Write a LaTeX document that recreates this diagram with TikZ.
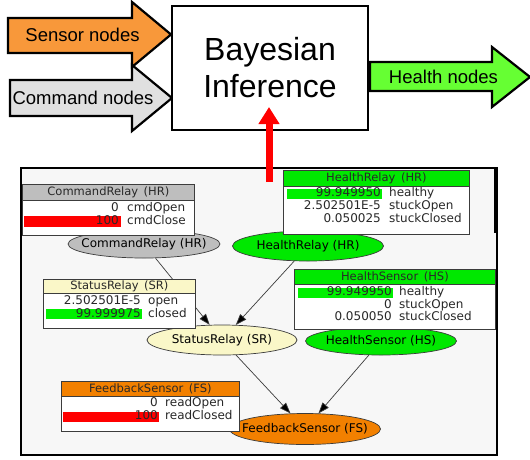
\documentclass[tikz,border=0pt]{standalone}
\usepackage{fontspec}
\setmainfont{Liberation Sans}
\newfontfamily\netfont{DejaVu Sans}
\usetikzlibrary{arrows.meta,positioning,shapes.geometric}
\definecolor{sensororange}{RGB}{248,152,58}
\definecolor{cmdgray}{RGB}{224,224,224}
\definecolor{healthgreen}{RGB}{102,255,51}
\definecolor{panelgray}{RGB}{247,247,247}
\definecolor{netgray}{RGB}{190,190,190}
\definecolor{netgreen}{RGB}{0,232,0}
\definecolor{netyellow}{RGB}{250,247,200}
\definecolor{netorange}{RGB}{242,128,0}
\definecolor{bargreen}{RGB}{0,240,0}
\definecolor{netline}{RGB}{60,60,60}
\definecolor{nettext}{RGB}{40,40,40}
\tikzset{
  blockarrow/.style={draw=black,line width=2.2pt,line join=miter},
  blocklabel/.style={font=\fontsize{18.5}{20}\selectfont,inner sep=0pt},
  netnode/.style={ellipse,draw=netline,line width=0.7pt,inner sep=0pt},
  netlabel/.style={font=\netfont\fontsize{12}{14}\selectfont,inner sep=0pt},
  netedge/.style={draw=netline,line width=0.7pt,-{Triangle[length=11pt,width=8pt,fill=black]}},
  cpt/.style={draw=netline,line width=0.8pt,fill=white,inner sep=0pt,anchor=north west},
  cpthead/.style={draw=netline,line width=0.8pt,inner sep=0pt,anchor=north west,
    font=\netfont\fontsize{11.5}{13}\selectfont,text=nettext},
  cptval/.style={anchor=mid east,inner sep=0pt,font=\netfont\fontsize{12}{13}\selectfont,text=nettext},
  cptstate/.style={anchor=mid west,inner sep=0pt,font=\netfont\fontsize{12}{13}\selectfont,text=nettext},
}

\begin{document}
\begin{tikzpicture}[x=1pt,y=-1pt]
  \useasboundingbox (0,0) rectangle (530,459);

  % input and output arrows
  \draw[blockarrow,fill=sensororange] (8,18) -- (132,18) -- (132,2) -- (171,34.5)
    -- (132,67) -- (132,53) -- (8,53) -- cycle;
  \draw[blockarrow,fill=cmdgray] (10,80) -- (132,80) -- (132,65) -- (172,98)
    -- (132,131) -- (132,116) -- (10,116) -- cycle;
  \draw[blockarrow,fill=healthgreen] (370,62) -- (492,62) -- (492,47) -- (530,77)
    -- (492,107) -- (492,91) -- (370,91) -- cycle;
  \node[blocklabel] (sensorlbl) at (82.5,35) {Sensor nodes};
  \node[blocklabel] (cmdlbl) at (83,98) {Command nodes};
  \node[blocklabel] (healthlbl) at (443.5,77) {Health nodes};

  \node[draw,line width=1.3pt,fill=white,minimum width=196pt,minimum height=124pt,
        align=center,font=\fontsize{32}{37}\selectfont] (bayes) at (270,68) {Bayesian\\Inference};

  % network panel
  \draw[fill=panelgray,line width=1.5pt] (21,168) rectangle (497,455);
  \fill (494,169) rectangle (497.5,233);

  \node[netnode,fill=netgray,minimum width=152pt,minimum height=28pt,
        label={[netlabel]center:CommandRelay (HR)}] (cr) at (144,244) {};
  \node[netnode,fill=netgreen,minimum width=151pt,minimum height=30pt,
        label={[netlabel]center:HealthRelay (HR)}] (hr) at (308,246) {};
  \node[netnode,fill=netyellow,minimum width=150pt,minimum height=30pt,
        label={[netlabel]center:StatusRelay (SR)}] (sr) at (222,340) {};
  \node[netnode,fill=netgreen,minimum width=151pt,minimum height=28pt,
        label={[netlabel]center:HealthSensor (HS)}] (hs) at (381,341) {};
  \node[netnode,fill=netorange,minimum width=151pt,minimum height=31pt,
        label={[netlabel]center:FeedbackSensor (FS)}] (fs) at (305,429) {};

  \draw[netedge] (cr) -- (sr);
  \draw[netedge] (hr) -- (sr);
  \draw[netedge] (sr) -- (fs);
  \draw[netedge] (hs) -- (fs);

  % CommandRelay table
  \node[cpt,minimum width=172pt,minimum height=51pt] (crbox) at (22,184) {};
  \node[cpthead,fill=netgray,minimum width=172pt,minimum height=16pt] (crhead)
    at (crbox.north west) {CommandRelay\,\ (HR)};
  \fill[red] (24,216) rectangle (121,227);
  \foreach \v/\s [count=\i] in {0/cmdOpen,100/cmdClose}{
    \node[cptval] (crv\i) at (119,196+13*\i) {\v};
    \node[cptstate] (crs\i) at (127,196+13*\i) {\s};
  }

  % HealthRelay table
  \node[cpt,minimum width=186pt,minimum height=64pt] (hrbox) at (283,170) {};
  \node[cpthead,fill=netgreen,minimum width=186pt,minimum height=16pt] (hrhead)
    at (hrbox.north west) {HealthRelay\,\ (HR)};
  \fill[bargreen] (287,189) rectangle (382,199);
  \foreach \v/\s [count=\i] in {99.949950/healthy,2.502501E-5/stuckOpen,0.050025/stuckClosed}{
    \node[cptval] (hrv\i) at (381,181.5+12.8*\i) {\v};
    \node[cptstate] (hrs\i) at (389,181.5+12.8*\i) {\s};
  }

  % StatusRelay table
  \node[cpt,minimum width=152pt,minimum height=49pt] (srbox) at (43,279) {};
  \node[cpthead,fill=netyellow,minimum width=152pt,minimum height=14pt] (srhead)
    at (srbox.north west) {StatusRelay\,\ (SR)};
  \fill[bargreen] (46,309) rectangle (142,319);
  \foreach \v/\s [count=\i] in {2.502501E-5/open,99.999975/closed}{
    \node[cptval] (srv\i) at (141,289.5+12.5*\i) {\v};
    \node[cptstate] (srs\i) at (148,289.5+12.5*\i) {\s};
  }

  % HealthSensor table
  \node[cpt,minimum width=201pt,minimum height=60pt] (hsbox) at (294,269) {};
  \node[cpthead,fill=netgreen,minimum width=201pt,minimum height=15pt] (hshead)
    at (hsbox.north west) {HealthSensor\,\ (HS)};
  \fill[bargreen] (298,288) rectangle (393,298);
  \foreach \v/\s [count=\i] in {99.949950/healthy,0/stuckOpen,0.050050/stuckClosed}{
    \node[cptval] (hsv\i) at (392,280.5+12.5*\i) {\v};
    \node[cptstate] (hss\i) at (399,280.5+12.5*\i) {\s};
  }

  % FeedbackSensor table
  \node[cpt,minimum width=178pt,minimum height=50pt] (fsbox) at (61,381) {};
  \node[cpthead,fill=netorange,minimum width=178pt,minimum height=15pt] (fshead)
    at (fsbox.north west) {FeedbackSensor\,\ (FS)};
  \fill[red] (63,412) rectangle (159,422);
  \foreach \v/\s [count=\i] in {0/readOpen,100/readClosed}{
    \node[cptval] (fsv\i) at (158,391+13*\i) {\v};
    \node[cptstate] (fss\i) at (165,391+13*\i) {\s};
  }

  % evidence goes up into the inference box
  \coordinate (evbase) at (269,182);
  \coordinate (evtip) at (269,107);
  \draw[red,line width=7pt,-{Triangle[length=17pt,width=20pt]}] (evbase) -- (evtip);
\end{tikzpicture}
\end{document}
